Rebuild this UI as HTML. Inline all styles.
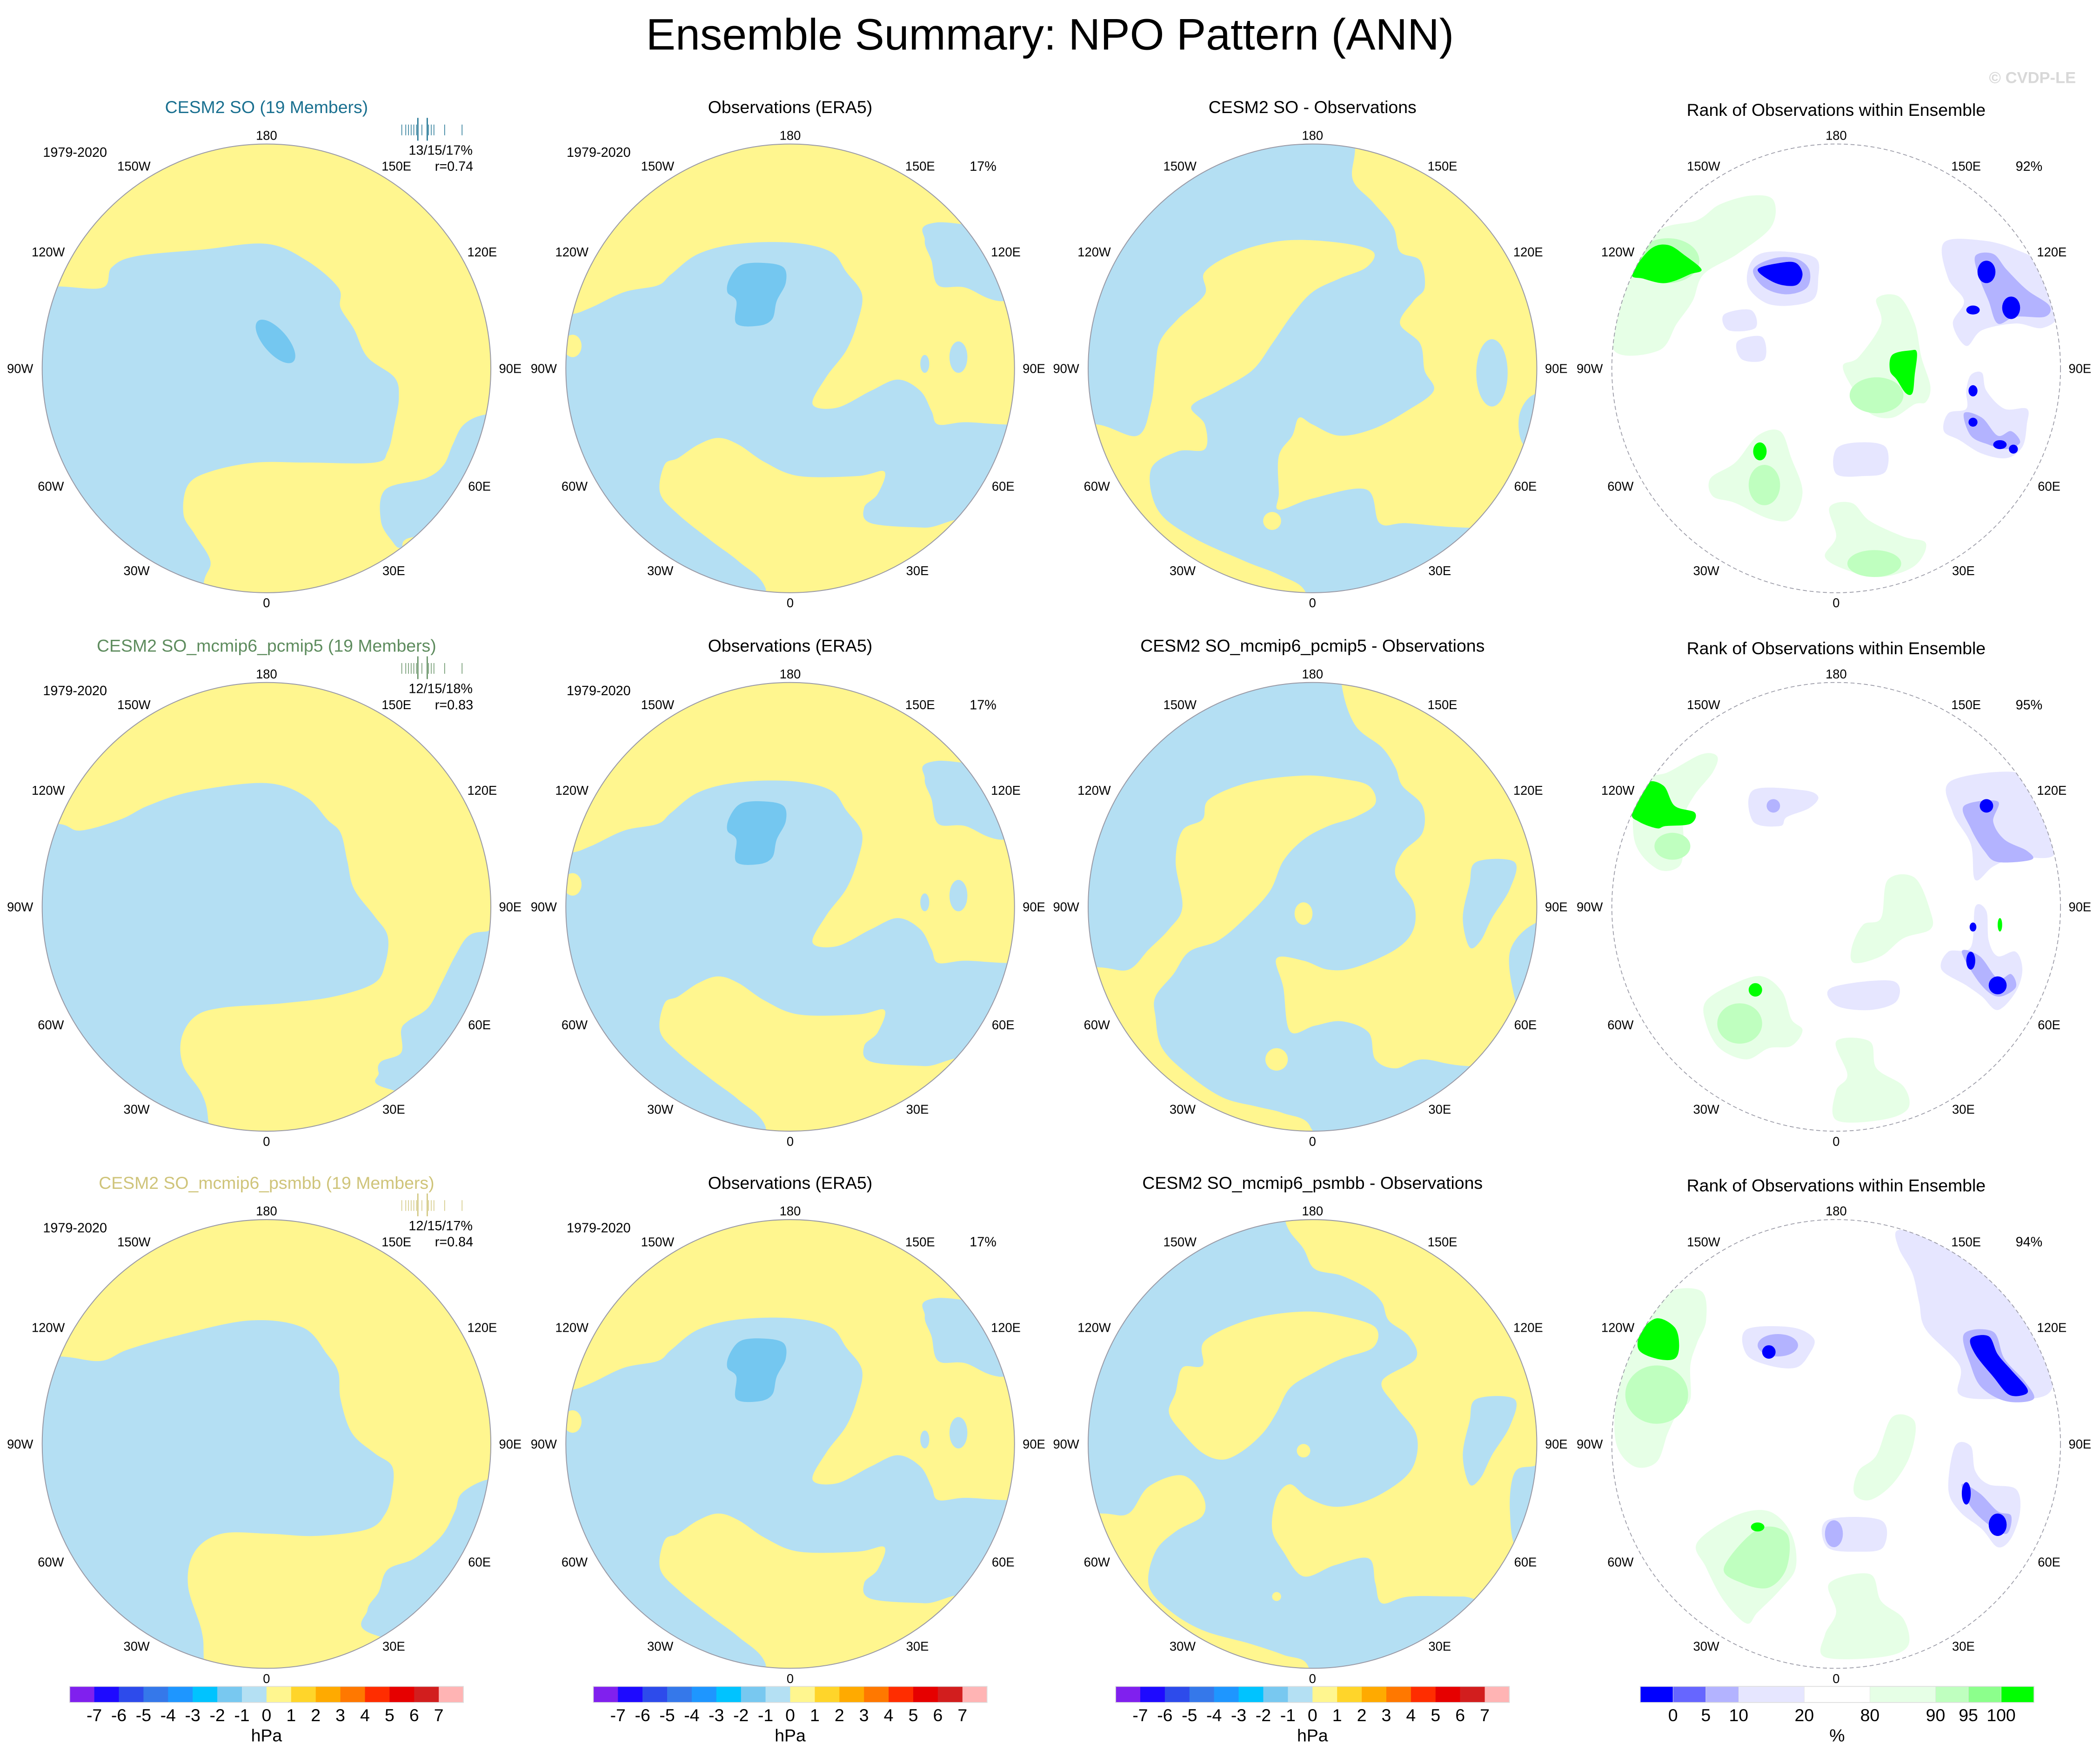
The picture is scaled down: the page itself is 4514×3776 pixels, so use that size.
<!DOCTYPE html>
<html><head><meta charset="utf-8"><title>Ensemble Summary: NPO Pattern (ANN)</title>
<style>
html,body{margin:0;padding:0;background:#fff;}
svg{display:block;font-family:"Liberation Sans",Arial,sans-serif;}
</style></head>
<body>
<svg id="fig" xmlns="http://www.w3.org/2000/svg" width="4514" height="3776" viewBox="0 0 1568 1311.7" preserveAspectRatio="none">
<rect x="0" y="0" width="1568" height="1311.7" fill="#fff"/>
<text x="784" y="37" font-size="33" text-anchor="middle" fill="#000">Ensemble Summary: NPO Pattern (ANN)</text>
<text x="1550" y="62" font-size="12" text-anchor="end" fill="#d8d8d8" font-weight="bold">© CVDP-LE</text>
</svg>
<script>
// ---------- data ----------
const colCx = [199, 590, 980, 1371];
const rowCy = [275, 677, 1078];
const R = 167.5;
const Y = '#fff68f', B = '#b4dff3', DB = '#74c7f0';
const G1 = '#e6ffe6', G2 = '#bfffbf', G3 = '#00ff00', L1 = '#e6e6ff', L2 = '#b3b3ff', L3 = '#0000ff';

const hpaColors = ['#8020ee','#1e0aff','#2d4beb','#3578ea','#1e96ff','#00c3ff','#78c8f0','#b4e0f3','#fff68f','#ffd52a','#ffaa00','#ff7800','#ff2d00','#e60000','#d21e1e','#ffb4b4'];
const hpaLabels = ['-7','-6','-5','-4','-3','-2','-1','0','1','2','3','4','5','6','7'];
const rankColors = ['#0000ff','#6666ff','#b3b3ff','#e6e6ff','#ffffff','#e6ffe6','#bfffbf','#8cff8c','#00ff00'];
const rankUnits = [1,1,1,2,2,2,1,1,1];
const rankLabels = ['0','5','10','20','80','90','95','100'];

const titles = [
 ['CESM2 SO (19 Members)','Observations (ERA5)','CESM2 SO - Observations','Rank of Observations within Ensemble'],
 ['CESM2 SO_mcmip6_pcmip5 (19 Members)','Observations (ERA5)','CESM2 SO_mcmip6_pcmip5 - Observations','Rank of Observations within Ensemble'],
 ['CESM2 SO_mcmip6_psmbb (19 Members)','Observations (ERA5)','CESM2 SO_mcmip6_psmbb - Observations','Rank of Observations within Ensemble']
];
const rowColors = ['#1a7090','#5e8c5e','#cfc47a'];
const statsText = ['13/15/17%','12/15/18%','12/15/17%'];
const corrText = ['r=0.74','r=0.83','r=0.84'];
const rankPct = ['92%','95%','94%'];
const histTicks = [0,3,5,7,9,11,12,15,19,20,22,24,32,45];

const obs = [
 {c:Y, p:[[-120,-120],[-120,-24],[-99,-24],[-89,-27],[-74,-34],[-59,-37],[-53,-42],[-41,-51],[-23,-55.5],[1,-56],[18,-52],[25,-43],[32,-33],[30,-20.5],[25,-8],[16,4],[10,16],[21,17.5],[36,10],[48,5],[58,10],[63,19],[66,25],[78,24],[96,25],[120,25],[120,-30],[93,-30],[78,-36],[66,-37],[63,-48],[60,-57],[65,-65],[120,-65],[120,-120]]},
 {c:Y, p:[[-56,43],[-58,55.5],[-50,65],[-35,77],[-23,86],[-11,98],[-11,120],[80,120],[80,71],[60,71],[36,69],[33,62],[39,56],[42,46],[30,48],[4,48],[-11,42],[-23,34],[-32,31],[-41,34],[-50,40]]},
 {c:DB, p:[[-27,-40],[-22,-46],[-12,-47],[-3,-45],[-2,-38],[-6,-30],[-8,-22],[-14,-19],[-24,-20],[-24,-30],[-28,-34]]},
 {c:B, e:[75,-5,4,7,0]},{c:B, e:[60,-2,2,4,0]},{c:Y, e:[-97,-10,4,5,0]}
];
const panels = [
 [ {base:Y, layers:[
    {c:B, p:[[-93,-36.5],[-73,-36],[-69,-45],[-58,-50],[-28,-53],[0,-55.5],[18,-48],[32,-36],[33,-27],[39,-17.5],[45,-5],[57,4],[59,13],[57,25],[54,37],[48,42],[18,42],[-5,42],[-25,46],[-35,52],[-37,65],[-32,74],[-25,86],[-28,96],[-28,118],[-118,118],[-118,-36.5]]},
    {c:B, p:[[98,20.5],[88,25],[83,34],[79,43],[71,49],[53,54],[51,68],[56,77],[60,80],[67,75],[115,75],[115,20.5]]},
    {c:DB, e:[4,-12,12,5.3,49]} ]},
   {base:B, layers:obs},
   {base:B, layers:[
    {c:Y, p:[[19,-120],[19,-98],[18,-84],[27,-74],[36,-63],[39,-52],[48,-48],[50,-36],[45,-30],[39,-20],[48,-11],[50,1],[54,10],[42,19],[27,27],[12,30],[0,25],[-6,22],[-9,30],[-15,39],[-15,55.5],[-15,63],[0,58],[24,54],[30,69],[42,69],[69,71],[120,71],[120,-120]]},
    {c:B, e:[80,2,7,15,0]},{c:B, p:[[98,12],[92,22],[95,35],[110,35],[110,12]]},
    {c:Y, p:[[-48,-33],[-48,-43],[-33,-52],[-12,-57],[12,-56],[27,-52],[24,-45],[12,-40],[0,-34],[-9,-24],[-18,-11],[-27,1],[-42,10],[-54,17],[-48,25],[-48,36],[-60,37],[-72,45],[-69,63],[-54,75],[-30,86],[-15,92],[-3,100],[-3,120],[-120,120],[-120,25],[-96,25],[-78,30],[-72,16],[-70,0],[-68,-12],[-60,-22]]},
    {c:Y, e:[-18,68,4,4,0]} ]},
   {rank:true, layers:[
    {c:G1, p:[[-99,-8],[-97,-33],[-81,-60],[-62,-66],[-52,-73],[-38,-77],[-28,-75],[-29,-63],[-44,-51],[-59,-42],[-64,-30],[-71,-20],[-79,-8]]},
    {c:G2, e:[-75,-48,14,10,0]},
    {c:G3, p:[[-91,-42],[-83,-53],[-75,-55],[-67,-50],[-60,-44],[-65,-42],[-72,-39],[-78,-38],[-86,-40]]},
    {c:L1, p:[[-39,-45],[-34,-51],[-22,-52],[-9,-49],[-8,-40],[-10,-31],[-20,-28],[-31,-29],[-39,-36]]},
    {c:L2, p:[[-37,-44],[-28,-49],[-18,-49],[-12,-44],[-13,-36],[-22,-33],[-32,-36]]},
    {c:L3, p:[[-35,-44],[-25,-47],[-18,-47],[-15,-42],[-18,-37],[-27,-38]]},
    {c:L1, p:[[-50,-24],[-38,-26],[-36,-18],[-48,-17]]},{c:L1, p:[[-44,-12],[-33,-14],[-32,-4],[-42,-4]]},
    {c:L1, p:[[48,-56],[65,-57],[80,-53],[93,-45],[99,-25],[92,-18],[80,-20],[65,-17],[58,-10],[52,-20],[57,-30],[50,-40]]},
    {c:L2, p:[[62,-50],[70,-51],[76,-44],[85,-35],[95,-28],[93,-23],[80,-23],[72,-20],[68,-30],[64,-40]]},
    {c:L3, e:[67,-43,4,5,0]},{c:L3, e:[78,-27,4,5,0]},{c:L3, e:[61,-26,3,2,0]},
    {c:G1, p:[[18,-31],[28,-32],[35,-20],[38,-5],[42,8],[40,15],[35,16],[25,22],[15,20],[8,10],[3,-1],[10,-5],[20,-20]]},
    {c:G2, e:[18,12,12,8,0]},
    {c:G3, p:[[25,-6],[33,-8],[36,-7],[35,3],[34,11],[31,11],[27,5],[24,1]]},
    {c:L1, p:[[60,3],[65,2],[67,10],[75,18],[85,18],[85,25],[83,35],[76,40],[65,38],[55,32],[48,28],[50,20],[58,18],[58,10]]},
    {c:L2, p:[[57,20],[65,22],[72,30],[78,28],[82,33],[76,36],[68,34],[60,30]]},
    {c:L3, e:[61,10,2,2.5,0]},{c:L3, e:[61,24,2,2,0]},{c:L3, e:[73,34,3,2,0]},{c:L3, e:[79,36,2,2,0]},
    {c:G1, p:[[-56,49],[-45,42],[-35,30],[-25,28],[-20,40],[-15,55],[-20,67],[-30,67],[-45,60],[-55,57]]},
    {c:G2, e:[-32,52,7,9,0]},{c:G3, e:[-34,37,3,4,0]},
    {c:L1, p:[[0,36],[10,33],[22,35],[22,46],[12,48],[0,47]]},
    {c:G1, p:[[-3,62],[7,60],[15,68],[30,75],[40,78],[35,88],[20,93],[5,90],[-5,84],[0,75]]},
    {c:G2, e:[17,87,12,6,0]} ]}
 ],
 [ {base:Y, layers:[
    {c:B, p:[[-93,-37],[-83,-34],[-65,-39],[-53,-45],[-35,-51],[-8,-55],[7,-54],[19,-48],[27,-39],[33,-33],[36,-20.5],[39,-8],[48,4],[54,13],[53,25],[48,34],[30,40],[7,43],[-20,45],[-32,49],[-38,59],[-37,71],[-29,83],[-26,95],[-26,120],[-120,120],[-120,-37]]},
    {c:B, p:[[98,11],[90,13],[84,22],[78,34],[72,45],[63,51],[60,55],[60,65],[51,69],[50,74],[54,81],[110,90],[110,11]]} ]},
   {base:B, layers:obs},
   {base:B, layers:[
    {c:Y, p:[[13,-120],[13,-99],[19,-81],[31,-71],[37,-62],[40,-54],[49,-45],[49,-33],[40,-24],[37,-14],[45,-2],[45,10],[37,19],[19,27],[7,28],[-4,24],[-16,23],[-13,36],[-10,55.5],[1,53],[13,51],[25,56],[28,68],[37,72],[49,68],[70,71],[120,71],[120,-120]]},
    {c:B, p:[[73,-20],[90,-20],[88,-8],[80,5],[75,15],[70,18],[67,5],[70,-10]]},
    {c:B, p:[[98,8],[88,20],[90,40],[95,50],[110,50],[110,8]]},
    {c:Y, p:[[-49,-39],[-46,-48],[-28,-55.5],[-4,-58.5],[13,-57],[25,-54],[28,-46],[19,-40],[7,-36],[-4,-30],[-13,-20.5],[-19,-7],[-30,5],[-42,15],[-55,20],[-62,30],[-70,40],[-70,49],[-67,63],[-55,75],[-40,85],[-25,89],[-13,92],[-1,98],[-1,120],[-120,120],[-120,27],[-95,27],[-82,28],[-73,19],[-64,10],[-58,0],[-61,-20],[-58,-34]]},
    {c:Y, e:[-4,3,4,5,0]},{c:Y, e:[-16,68,5,5,0]} ]},
   {rank:true, layers:[
    {c:G1, p:[[-88,-55],[-75,-60],[-60,-68],[-53,-67],[-55,-60],[-63,-50],[-68,-40],[-68,-28],[-70,-18],[-80,-17],[-90,-30]]},
    {c:G2, e:[-73,-27,8,6,0]},
    {c:G3, p:[[-91,-42],[-85,-55],[-77,-54],[-72,-45],[-63,-42],[-65,-37],[-76,-36],[-80,-35],[-88,-38]]},
    {c:L1, p:[[-37,-52],[-15,-52],[-8,-49],[-12,-44],[-22,-40],[-25,-36],[-37,-38]]},
    {c:L2, e:[-28,-45,3,3,0]},
    {c:L1, p:[[51,-56],[80,-60],[88,-50],[95,-38],[97,-23],[80,-22],[70,-18],[62,-12],[60,-28],[52,-42]]},
    {c:L2, p:[[57,-45],[72,-47],[70,-38],[75,-30],[85,-25],[87,-21],[72,-20],[66,-25],[60,-35]]},
    {c:L3, e:[67,-45,3,3,0]},
    {c:G1, p:[[23,-12],[35,-13],[42,2],[42,10],[30,14],[20,22],[8,25],[7,18],[12,8],[20,5]]},
    {c:L1, p:[[62,0],[67,2],[68,15],[72,22],[80,20],[83,28],[80,38],[72,46],[65,40],[58,35],[47,28],[50,20],[60,18]]},
    {c:L2, p:[[56,20],[64,22],[72,32],[78,30],[80,36],[72,40],[64,34]]},
    {c:L3, e:[60,24,2,4,0]},{c:L3, e:[72,35,4,4,0]},{c:L3, e:[61,9,1.5,2,0]},
    {c:G3, e:[73,8,1,3,0]},
    {c:G1, p:[[-58,42],[-45,34],[-33,31],[-24,38],[-20,50],[-15,55],[-20,62],[-30,63],[-40,68],[-52,63],[-58,52]]},
    {c:G2, e:[-43,52,10,9,0]},{c:G3, e:[-36,37,3,3,0]},
    {c:L1, p:[[-2,36],[25,33],[27,42],[15,46],[0,44]]},
    {c:G1, p:[[0,60],[15,60],[18,72],[30,80],[32,90],[20,95],[0,95],[0,82],[5,75]]} ]}
 ],
 [ {base:Y, layers:[
    {c:B, p:[[-92,-39],[-74,-37],[-62,-42],[-41,-48],[-8,-55],[16,-52],[27,-40],[32,-32],[33,-20],[38,-5],[48,4],[56,10],[56,21],[53,31],[45,38],[22,41],[1,40],[-20,40],[-32,48],[-35,63],[-29,83],[-28,95],[-28,120],[-120,120],[-120,-39]]},
    {c:B, p:[[98,16],[87,22],[84,30],[78,41],[66,51],[54,56],[50,66],[45,74],[48,85],[110,95],[110,16]]} ]},
   {base:B, layers:obs},
   {base:B, layers:[
    {c:Y, p:[[-12,-120],[-12,-99],[-4,-87],[1,-78],[13,-75],[25,-69],[31,-63],[34,-55],[43,-48],[46,-38],[31,-28],[37,-17],[46,-5],[46,7],[40,16],[25,25],[10,28],[-2,24],[-10,18],[-16,24],[-18,38],[-13,48],[-4,59],[10,54],[25,51],[28,62],[31,71],[43,68],[67,68],[120,68],[120,-120]]},
    {c:B, p:[[73,-20],[90,-20],[88,-8],[80,5],[75,15],[70,18],[67,5],[70,-10]]},
    {c:B, p:[[98,10],[90,13],[88,30],[92,48],[110,48],[110,10]]},
    {c:Y, p:[[-49,-35],[-48,-46],[-28,-55.5],[-4,-59],[13,-57],[28,-52],[27,-43],[13,-38],[1,-32],[-10,-25],[-16,-14],[-22,-5],[-31,3],[-40,7],[-49,4],[-58,-5],[-64,-14],[-61,-23],[-58,-34]]},
    {c:Y, p:[[-120,31],[-94,31],[-82,31],[-73,19],[-58,14],[-49,23],[-49,32],[-61,39],[-70,48],[-73,63],[-64,74],[-49,83],[-28,89],[-13,94],[-2,99],[-2,120],[-120,120]]},
    {c:Y, e:[-4,3,3,3,0]},{c:Y, e:[-16,68,2,2,0]} ]},
   {rank:true, layers:[
    {c:G1, p:[[-98,-20],[-92,-40],[-85,-58],[-75,-68],[-60,-68],[-58,-55],[-62,-45],[-65,-35],[-65,-20],[-70,-15],[-75,-5],[-80,8],[-90,10],[-98,0]]},
    {c:G2, e:[-80,-22,14,13,0]},
    {c:G3, p:[[-87,-50],[-80,-56],[-72,-52],[-70,-44],[-72,-38],[-80,-38],[-88,-42]]},
    {c:L1, p:[[-40,-51],[-20,-52],[-10,-47],[-12,-40],[-18,-34],[-30,-35],[-40,-40]]},
    {c:L2, e:[-26,-44,9,5,0]},{c:L3, e:[-30,-41,3,3,0]},
    {c:L1, p:[[27,-95],[37,-93],[61,-81],[79,-66],[91,-51],[97,-36],[94,-22],[73,-20],[55,-22],[55,-35],[40,-51],[37,-63],[34,-76],[28,-87]]},
    {c:L2, p:[[57,-49],[70,-50],[75,-38],[84,-28],[88,-20],[76,-19],[65,-25],[60,-35]]},
    {c:L3, p:[[60,-47],[68,-48],[72,-40],[78,-33],[85,-25],[84,-22],[77,-22],[70,-30],[62,-40]]},
    {c:L1, p:[[53,1],[60,1],[62,12],[68,18],[80,20],[82,30],[78,42],[72,46],[65,38],[55,30],[50,20]]},
    {c:L2, p:[[56,18],[64,22],[72,30],[78,32],[76,40],[68,36],[60,28]]},
    {c:L3, e:[58,22,2,5,0]},{c:L3, e:[72,36,4,5,0]},
    {c:G1, p:[[25,-12],[35,-10],[33,5],[25,18],[15,25],[8,22],[10,12],[18,5]]},
    {c:L1, p:[[-4,34],[20,34],[21,46],[10,48],[-4,46]]},
    {c:L2, e:[-1,40,4,6,0]},
    {c:G1, p:[[-62,44],[-45,32],[-30,30],[-20,40],[-18,55],[-25,65],[-35,75],[-40,80],[-50,70],[-58,55]]},
    {c:G2, p:[[-50,55],[-35,38],[-22,40],[-22,55],[-30,64],[-42,62]]},
    {c:G3, e:[-35,37,3,2,0]},
    {c:G1, p:[[-3,62],[15,58],[20,70],[30,78],[32,90],[20,95],[-5,95],[-5,85],[0,75]]} ]}
 ]
];

const lonLabels = [['180',0,-174],['0',0,175],['150W',-99,-151],['150E',97,-151],['120W',-163,-87],['120E',161,-87],['90W',-184,0],['90E',182,0],['60W',-161,88],['60E',159,88],['30W',-97,151],['30E',95,151]];

// ---------- drawing ----------
const NS = 'http://www.w3.org/2000/svg';
const svg = document.getElementById('fig');
function mk(tag, attrs, parent){
  const el = document.createElementNS(NS, tag);
  for (const k in attrs) el.setAttribute(k, attrs[k]);
  (parent||svg).appendChild(el);
  return el;
}
// closed Catmull-Rom spline through points
function smoothPath(pts, cx, cy){
  const s = R/100;
  const P = pts.map(p => [cx + p[0]*s, cy + p[1]*s]);
  const n = P.length;
  const f = v => v.toFixed(2);
  let d = 'M' + f(P[0][0]) + ',' + f(P[0][1]);
  const t = 0.5 / 3;
  for (let i=0;i<n;i++){
    const p0 = P[(i-1+n)%n], p1 = P[i], p2 = P[(i+1)%n], p3 = P[(i+2)%n];
    const c1 = [p1[0] + (p2[0]-p0[0])*t, p1[1] + (p2[1]-p0[1])*t];
    const c2 = [p2[0] - (p3[0]-p1[0])*t, p2[1] - (p3[1]-p1[1])*t];
    d += ' C' + f(c1[0]) + ',' + f(c1[1]) + ' ' + f(c2[0]) + ',' + f(c2[1]) + ' ' + f(p2[0]) + ',' + f(p2[1]);
  }
  return d + 'Z';
}

for (let r=0;r<3;r++){
  for (let c=0;c<4;c++){
    const cx = colCx[c], cy = rowCy[r];
    const pd = panels[r][c];
    const g = mk('g', {});
    
    
    const clipId = 'clip' + r + c;
    const cp = mk('clipPath', {id: clipId}, g);
    mk('circle', {cx:cx, cy:cy, r:R}, cp);
    const inner = mk('g', {'clip-path':'url(#' + clipId + ')'}, g);
    const bg = mk('circle', {cx:cx, cy:cy, r:R, fill: pd.rank ? '#fff' : pd.base}, inner);
    
    
    pd.layers.forEach(L => {
      let el;
      if (L.p) {
        el = mk('path', {d: smoothPath(L.p, cx, cy), fill: L.c}, inner);
      } else {
        const s = R/100, e = L.e;
        el = mk('ellipse', {cx: cx + e[0]*s, cy: cy + e[1]*s, rx: e[2]*s, ry: e[3]*s, fill: L.c, transform: 'rotate(' + e[4] + ' ' + (cx+e[0]*s) + ' ' + (cy+e[1]*s) + ')'}, inner);
      }
      
      
    });
    const outline = mk('circle', {cx:cx, cy:cy, r:R, fill:'none', stroke:'#9a9aa6', 'stroke-width': pd.rank ? 0.6 : 0.7, 'stroke-dasharray': pd.rank ? '3,2' : 'none'}, g);
    
    
    lonLabels.forEach(L => {
      const t = mk('text', {x: cx + L[1], y: cy + L[2] + 3.4, 'font-size': 9.5, 'text-anchor':'middle', fill:'#000'}, g);
      t.textContent = L[0];
      
      
    });
    const tt = mk('text', {x: cx, y: cy - 195 + 4.5 + (c===3 ? 2 : 0), 'font-size': 13, 'text-anchor':'middle', fill: c===0 ? rowColors[r] : '#000'}, g);
    tt.textContent = titles[r][c];
    
    
    if (c < 2) {
      const yr = mk('text', {x: cx - 143, y: cy - 161.5 + 3.5, 'font-size': 10, 'text-anchor':'middle', fill:'#000'}, g);
      yr.textContent = '1979-2020';
      
      
    }
    if (c === 0) {
      const st = mk('text', {x: cx + 130, y: cy - 163 + 3.5, 'font-size': 10, 'text-anchor':'middle', fill:'#000'}, g);
      st.textContent = statsText[r];
      
      
      const co = mk('text', {x: cx + 140, y: cy - 151 + 3.5, 'font-size': 10, 'text-anchor':'middle', fill:'#000'}, g);
      co.textContent = corrText[r];
      
      
      histTicks.forEach((v, i) => {
        const x = cx + 101 + v;
        const big = (i === 6 || i === 8);
        const ln = mk('line', {x1:x, x2:x, y1: cy - (big ? 187 : 182), y2: cy - (big ? 170 : 174), stroke: rowColors[r], 'stroke-width': big ? 0.9 : 0.5}, g);
        
        
      });
    }
    if (c === 1 || c === 3) {
      const pc = mk('text', {x: cx + 144, y: cy - 151 + 3.5, 'font-size': 10, 'text-anchor':'middle', fill:'#000'}, g);
      pc.textContent = c === 1 ? '17%' : rankPct[r];
      
      
    }
  }
}

// ---------- colorbars ----------
const barY = 1259, barH = 12, barW = 294;
for (let c=0;c<3;c++){
  const x0 = colCx[c] - 147;
  const g = mk('g', {});
  
  
  const bw = barW / hpaColors.length;
  hpaColors.forEach((col, i) => {
    const rc = mk('rect', {x: x0 + i*bw, y: barY, width: bw + 0.1, height: barH, fill: col}, g);
    
    
  });
  mk('rect', {x:x0, y:barY, width:barW, height:barH, fill:'none', stroke:'#ddd', 'stroke-width':0.6}, g);
  hpaLabels.forEach((lab, i) => {
    const t = mk('text', {x: x0 + (i+1)*bw, y: barY + 26, 'font-size': 13, 'text-anchor':'middle', fill:'#000'}, g);
    t.textContent = lab;
    
    
  });
  const u = mk('text', {x: x0 + barW/2, y: barY + 41, 'font-size': 13, 'text-anchor':'middle', fill:'#000'}, g);
  u.textContent = 'hPa';
  
  
}
{
  const x0 = 1224.7, totalU = rankUnits.reduce((a,b)=>a+b,0), uw = barW / totalU;
  const g = mk('g', {});
  
  
  let acc = 0;
  const bounds = [];
  rankColors.forEach((col, i) => {
    const rc = mk('rect', {x: x0 + acc*uw, y: barY, width: rankUnits[i]*uw + 0.1, height: barH, fill: col, stroke:'#e4e4e4', 'stroke-width':0.3}, g);
    
    
    acc += rankUnits[i];
    bounds.push(acc);
  });
  mk('rect', {x:x0, y:barY, width:barW, height:barH, fill:'none', stroke:'#ddd', 'stroke-width':0.6}, g);
  rankLabels.forEach((lab, i) => {
    const t = mk('text', {x: x0 + bounds[i]*uw, y: barY + 26, 'font-size': 13, 'text-anchor':'middle', fill:'#000'}, g);
    t.textContent = lab;
    
    
  });
  const u = mk('text', {x: x0 + barW/2, y: barY + 41, 'font-size': 13, 'text-anchor':'middle', fill:'#000'}, g);
  u.textContent = '%';
  
  
}
</script>
</body></html>
